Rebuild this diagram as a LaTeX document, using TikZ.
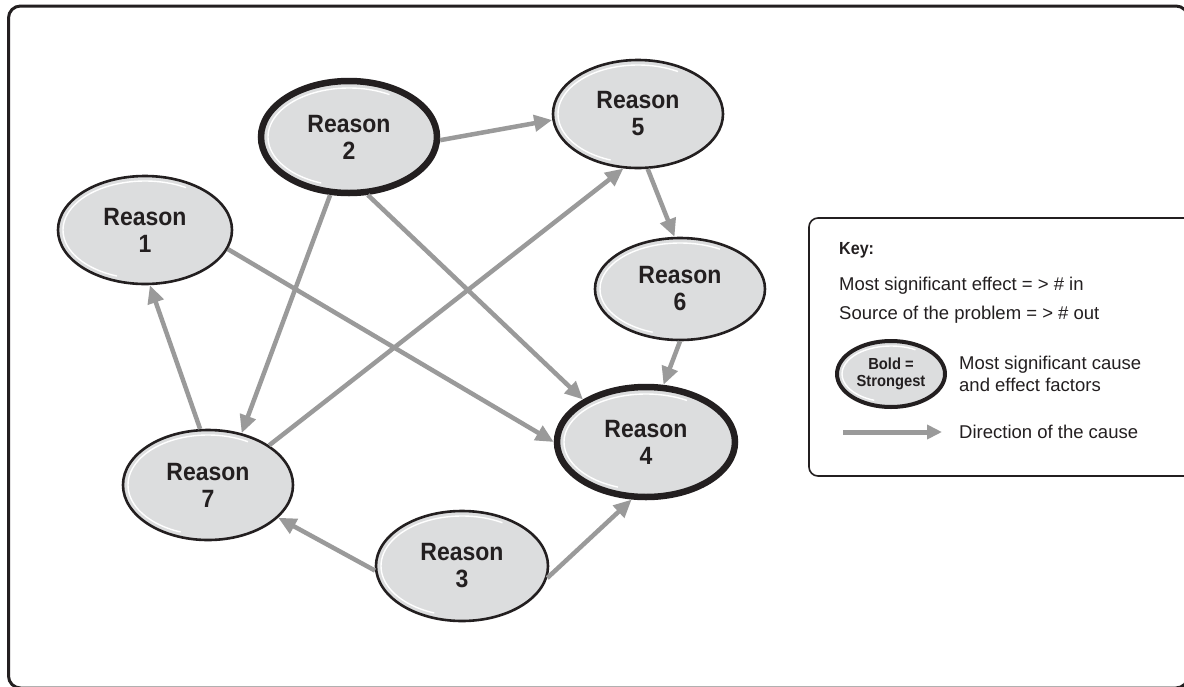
\documentclass[tikz,border=0pt]{standalone}
\usepackage{fontspec}
\setmainfont{Liberation Sans}[BoldFeatures={FakeStretch=0.92}]
\usetikzlibrary{shapes.geometric,arrows.meta,calc}
\definecolor{ellfill}{HTML}{DCDDDE}
\definecolor{arr}{HTML}{9A9A9A}
\definecolor{ink}{HTML}{231F20}
\newcommand\hilite[3]{\draw[white, line width=1.4pt] ($(#1.center)+(60:#2pt and #3pt)$) arc[start angle=60, end angle=250, x radius=#2pt, y radius=#3pt];}
\begin{document}
\begin{tikzpicture}[x=1pt,y=1pt,
  reason/.style={ellipse, draw=ink, fill=ellfill, line width=2.6pt, inner sep=0pt,
    font=\fontsize{25}{27}\selectfont\bfseries, align=center, text=ink},
  strong/.style={line width=6.5pt},
  cause/.style={draw=arr, line width=4.5pt, -{Triangle[length=18pt,width=16pt]}},
  keytext/.style={font=\fontsize{18.5}{22}\selectfont, anchor=west, text=ink, inner sep=0pt, align=left}]
\useasboundingbox (0,0) rectangle (1184,-686);
\clip (0,0) rectangle (1184,-686);
\fill[white] (0,0) rectangle (1184,-686);
% frame
\draw[ink, line width=3pt, rounded corners=12pt] (8.5,-6) rectangle (1188,-688);
% key box
\draw[ink, line width=1.6pt, rounded corners=9pt] (809,-218) rectangle (1200,-476);

% reason nodes
\node[reason, minimum width=174pt, minimum height=108pt] (n1) at (145,-230) {Reason\\1};
\node[reason, strong, minimum width=176pt, minimum height=112pt] (n2) at (349,-137) {Reason\\2};
\node[reason, minimum width=172pt, minimum height=110pt] (n3) at (462,-566) {Reason\\3};
\node[reason, strong, minimum width=178pt, minimum height=110pt] (n4) at (646,-442) {Reason\\4};
\node[reason, minimum width=170pt, minimum height=108pt] (n5) at (638,-114) {Reason\\5};
\node[reason, minimum width=170pt, minimum height=102pt] (n6) at (680,-289) {Reason\\6};
\node[reason, minimum width=170pt, minimum height=110pt] (n7) at (208,-485) {Reason\\7};
\hilite{n1}{82}{49}
\hilite{n2}{81}{49}
\hilite{n3}{81}{50}
\hilite{n4}{82}{48}
\hilite{n5}{80}{49}
\hilite{n6}{80}{46}
\hilite{n7}{80}{50}

% connectors
\draw[cause] (n2.-2) -- (n5.184);
\draw[cause] (n2.252) -- (n7.57);
\draw[cause] (n2.288) -- (n4.146);
\draw[cause] (n1.-13) -- (n4.180);
\draw[cause] (n5.-80) -- (n6.96);
\draw[cause] (n6.270) -- (n4.73);
\draw[cause] (n7.33) -- (n5.255);
\draw[cause] (n7.98) -- (n1.-85);
\draw[cause] (n3.183) -- (n7.-25);
\draw[cause] (n3.-8) -- (n4.256);

% key
\node[keytext, font=\fontsize{17.5}{20}\selectfont\bfseries] (key) at (839,-250) {Key:};
\node[keytext] (k1) at (839,-286) {Most significant effect = > \# in};
\node[keytext] (k2) at (839,-315) {Source of the problem = > \# out};
\node[reason, line width=4pt, minimum width=108pt, minimum height=66pt,
  font=\fontsize{16}{17}\selectfont\bfseries] (kb) at (891,-374) {Bold =\\Strongest};
\hilite{kb}{49}{28}
\node[keytext] (k3) at (959,-374) {Most significant cause\\and effect factors};
\coordinate (ka) at (843,-432);
\coordinate (kz) at (942,-432);
\draw[cause, line width=5pt, -{Triangle[length=15pt,width=14pt]}] (ka) -- (kz);
\node[keytext] (k4) at (959,-432) {Direction of the cause};
\end{tikzpicture}
\end{document}
